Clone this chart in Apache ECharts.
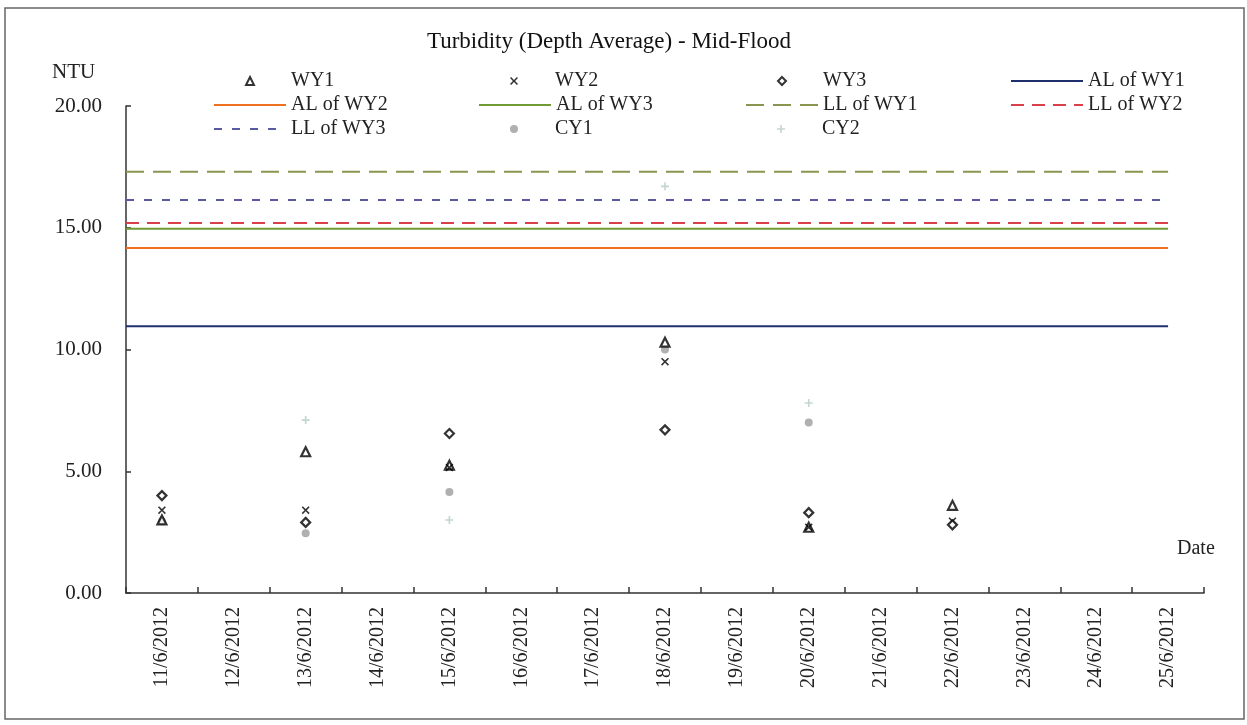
<!DOCTYPE html>
<html>
<head>
<meta charset="utf-8">
<script src="https://cdn.jsdelivr.net/npm/echarts@6/dist/echarts.min.js"></script>
<style>html,body{margin:0;padding:0;background:#fff}#c{width:1247px;height:725px}</style>
</head>
<body>
<div id="c"></div>
<script>
const dates = ['11/6/2012','12/6/2012','13/6/2012','14/6/2012','15/6/2012','16/6/2012','17/6/2012','18/6/2012','19/6/2012','20/6/2012','21/6/2012','22/6/2012','23/6/2012','24/6/2012','25/6/2012'];
const wy1 = [3.0, null, 5.8, null, 5.25, null, null, 10.3, null, 2.7, null, 3.6, null, null, null];
const wy2 = [3.4, null, 3.4, null, 5.15, null, null, 9.5, null, 2.7, null, 2.95, null, null, null];
const wy3 = [4.0, null, 2.9, null, 6.55, null, null, 6.7, null, 3.3, null, 2.8, null, null, null];
const cy1 = [2.95, null, 2.45, null, 4.15, null, null, 10.0, null, 7.0, null, null, null, null, null];
const cy2 = [3.0, null, 7.1, null, 3.0, null, null, 16.7, null, 7.8, null, null, null, null, null];
const alWY1 = 10.95, alWY2 = 14.17, alWY3 = 14.96;
const llWY1 = 17.3, llWY2 = 15.19, llWY3 = 16.14;
const yTicks = [0, 5, 10, 15, 20];

const FONT = '"Liberation Serif","DejaVu Serif",serif';
const FS = 20;
const chart = echarts.init(document.getElementById('c'), null, {renderer: 'canvas'});

const lineStart = -0.5, lineEnd = dates.length - 1;
function limitLine(name, v, color, type) {
  return {
    name, type: 'line', xAxisIndex: 1, symbol: 'none', silent: true,
    data: [[lineStart, v], [lineEnd, v]],
    lineStyle: {color, width: 2, type}, itemStyle: {color}, z: 2
  };
}
const crossPath = 'path://M0,1.4 L1.4,0 L5,3.6 L8.6,0 L10,1.4 L6.4,5 L10,8.6 L8.6,10 L5,6.4 L1.4,10 L0,8.6 L3.6,5 Z';
const plusPath = 'path://M4,0 H6 V4 H10 V6 H6 V10 H4 V6 H0 V4 H4 Z';

const series = [
  {name: 'WY1', type: 'scatter', data: wy1, symbol: 'triangle', symbolSize: 9,
   itemStyle: {color: '#fff', borderColor: '#000', borderWidth: 2.2}, z: 6},
  {name: 'WY2', type: 'scatter', data: wy2, symbol: crossPath, symbolSize: 8,
   itemStyle: {color: '#000'}, z: 6},
  {name: 'WY3', type: 'scatter', data: wy3, symbol: 'diamond', symbolSize: 9,
   itemStyle: {color: '#fff', borderColor: '#000', borderWidth: 2.2}, z: 6},
  limitLine('AL of WY1', alWY1, '#1f2f6e', 'solid'),
  limitLine('AL of WY2', alWY2, '#f07022', 'solid'),
  limitLine('AL of WY3', alWY3, '#6f9a35', 'solid'),
  limitLine('LL of WY1', llWY1, '#8a9650', [18, 9]),
  limitLine('LL of WY2', llWY2, '#d8404c', [13, 8]),
  limitLine('LL of WY3', llWY3, '#5a5aa0', [8, 10]),
  {name: 'CY1', type: 'scatter', data: cy1, symbol: 'circle', symbolSize: 8,
   itemStyle: {color: '#9c9c9c'}, z: 4},
  {name: 'CY2', type: 'scatter', data: cy2, symbol: plusPath, symbolSize: 8,
   itemStyle: {color: '#b5cbc4'}, z: 4}
];

const cols = [213, 478, 745, 1010];
const rows = [71, 95, 119];
const legendLayout = [
  ['WY1', 0, 0, 'm'], ['WY2', 1, 0, 'm'], ['WY3', 2, 0, 'm'], ['AL of WY1', 3, 0, 'l'],
  ['AL of WY2', 0, 1, 'l'], ['AL of WY3', 1, 1, 'l'], ['LL of WY1', 2, 1, 'l'], ['LL of WY2', 3, 1, 'l'],
  ['LL of WY3', 0, 2, 'l'], ['CY1', 1, 2, 'm'], ['CY2', 2, 2, 'm']
];
const legends = legendLayout.map(([name, c, r, kind]) => {
  const base = {
    data: [name], orient: 'horizontal', itemGap: 0, padding: 0, selectedMode: false,
    textStyle: {fontFamily: FONT, fontSize: FS, color: '#222'}
  };
  if (kind === 'l') {
    return Object.assign(base, {
      left: cols[c], top: rows[r], itemWidth: 72, itemHeight: 10,
      itemStyle: {opacity: 0}
    });
  }
  return Object.assign(base, {
    left: cols[c] + 32, top: rows[r], itemWidth: 8, itemHeight: 8,
    textStyle: {fontFamily: FONT, fontSize: FS, color: '#222', padding: [0, 0, 0, 32]}
  });
});

chart.setOption({
  animation: false,
  backgroundColor: '#fff',
  graphic: [
    {type: 'rect', shape: {x: 5, y: 8, width: 1239, height: 711},
     style: {fill: 'none', stroke: '#666', lineWidth: 1.5}, silent: true},
    {type: 'text', x: 609, y: 42, style: {text: 'Turbidity (Depth Average) - Mid-Flood',
      font: '23px ' + FONT, fill: '#111', textAlign: 'center', textVerticalAlign: 'middle'}},
    {type: 'text', x: 52, y: 72, style: {text: 'NTU', font: '21px ' + FONT, fill: '#222',
      textAlign: 'left', textVerticalAlign: 'middle'}},
    {type: 'text', x: 1177, y: 549, style: {text: 'Date', font: FS + 'px ' + FONT, fill: '#222',
      textAlign: 'left', textVerticalAlign: 'middle'}}
  ],
  legend: legends,
  grid: {left: 126, right: 43, top: 106, bottom: 132, containLabel: false},
  xAxis: [
    {type: 'category', data: dates, boundaryGap: true,
     axisLine: {lineStyle: {color: '#333', width: 1.5}},
     axisTick: {show: true, alignWithLabel: false, interval: 0, inside: true, length: 6,
       lineStyle: {color: '#333', width: 1.5}},
     axisLabel: {rotate: 90, interval: 0, margin: 14, fontFamily: FONT, fontSize: FS, color: '#222'},
     splitLine: {show: false}},
    {type: 'value', min: -0.5, max: dates.length - 0.5, show: false}
  ],
  yAxis: {
    type: 'value', min: yTicks[0], max: yTicks[yTicks.length - 1], interval: 5,
    axisLine: {show: true, onZero: false, lineStyle: {color: '#333', width: 1.5}},
    axisTick: {show: true, inside: true, length: 5, lineStyle: {color: '#333', width: 1.5}},
    axisLabel: {margin: 24, fontFamily: FONT, fontSize: 21, color: '#222',
      formatter: v => v.toFixed(2)},
    splitLine: {show: false}
  },
  series
});
</script>
</body>
</html>
